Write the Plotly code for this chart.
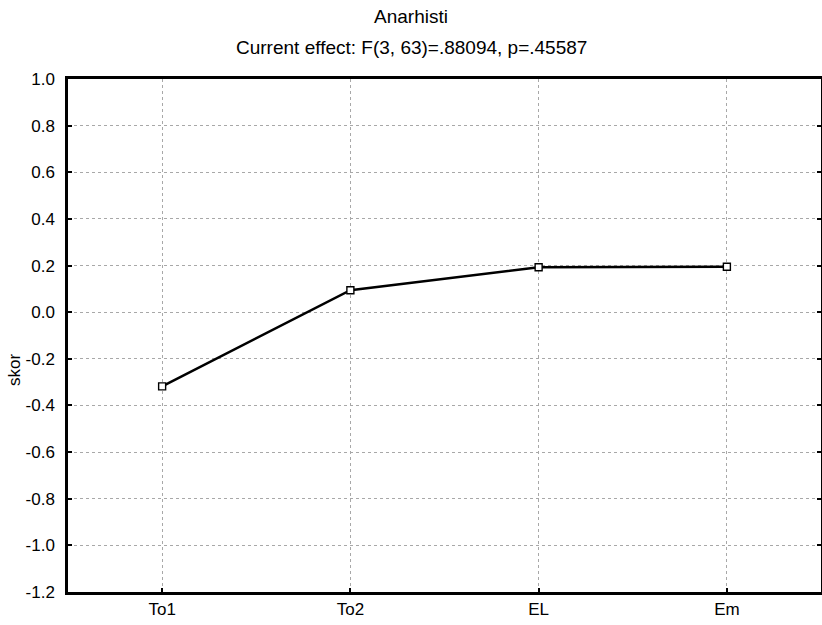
import plotly.graph_objects as go

categories = ["To1", "To2", "EL", "Em"]
values = [-0.318, 0.094, 0.193, 0.195]
y_ticks = [1.0, 0.8, 0.6, 0.4, 0.2, 0.0, -0.2, -0.4, -0.6, -0.8, -1.0, -1.2]
title = "Anarhisti"
subtitle = "Current effect: F(3, 63)=.88094, p=.45587"
y_title = "skor"

W, H = 822, 625
L, R, T, B = 68, 1, 79, 33
pw, ph = W - L - R, H - T - B

fig = go.Figure()
fig.add_trace(go.Scatter(
    x=list(range(len(categories))), y=values, mode="lines+markers",
    line=dict(color="black", width=2.5),
    marker=dict(symbol="square", size=7, color="white", line=dict(color="black", width=1.4)),
    showlegend=False,
))

fam = "Liberation Sans, Arial, sans-serif"
fig.update_layout(
    width=W, height=H,
    margin=dict(l=L, r=R, t=T, b=B, autoexpand=False),
    paper_bgcolor="white", plot_bgcolor="white",
    font=dict(family=fam, size=17, color="black"),
    xaxis=dict(
        range=[-0.5, 3.5], tickmode="array",
        tickvals=list(range(len(categories))), ticktext=categories,
        showgrid=True, gridcolor="#a8a8a8", griddash="dot", gridwidth=1,
        showline=True, linecolor="black", linewidth=2.5, mirror=True,
        ticks="inside", ticklen=4, tickcolor="black", tickwidth=1.5,
        zeroline=False, tickfont=dict(size=17), automargin=False,
    ),
    yaxis=dict(
        range=[-1.2, 1.0], tickmode="array", tickvals=y_ticks,
        ticktext=[f"{v:.1f}" for v in y_ticks],
        showgrid=True, gridcolor="#a8a8a8", griddash="dot", gridwidth=1,
        showline=True, linecolor="black", linewidth=2.5, mirror="ticks",
        ticks="inside", ticklen=4, tickcolor="black", tickwidth=1.5,
        zeroline=False, tickfont=dict(size=17), automargin=False,
        ticklabelstandoff=7,
    ),
    annotations=[
        dict(text=title, xref="paper", yref="paper", showarrow=False,
             x=(411 - L) / pw, y=(H - B - 16) / ph, yanchor="middle",
             font=dict(size=19)),
        dict(text=subtitle, xref="paper", yref="paper", showarrow=False,
             x=(411 - L) / pw, y=(H - B - 47) / ph, yanchor="middle",
             font=dict(size=19)),
        dict(text=y_title, xref="paper", yref="paper", showarrow=False,
             x=(14 - L) / pw, y=(H - B - 370) / ph, xanchor="center", yanchor="middle",
             textangle=-90, font=dict(size=17)),
    ],
)

fig.write_html("out.html", config={"displayModeBar": False},
               post_script="document.body.style.margin='0';document.body.style.padding='0';")
